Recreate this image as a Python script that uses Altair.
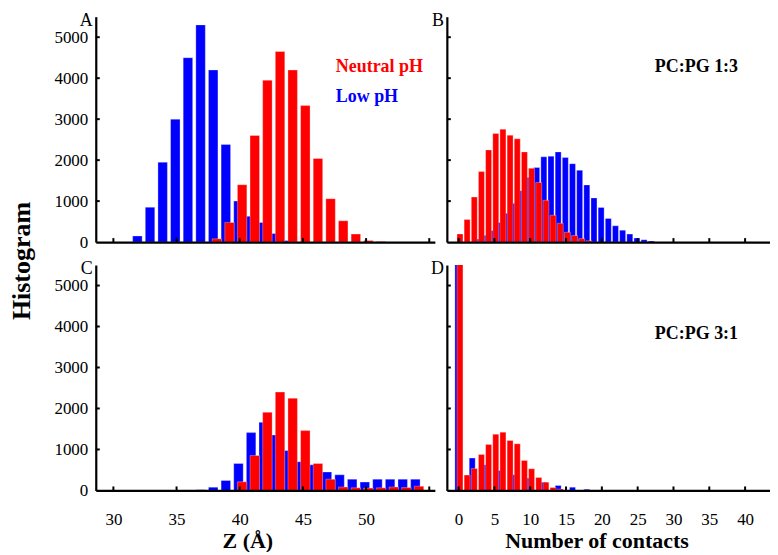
import altair as alt
import pandas as pd

# ---------------- data ----------------
# Panel A: PC:PG 1:3, Z position (Å)
A_low_z = [32, 33, 34, 35, 36, 37, 38, 39, 40, 41, 42, 43, 44]
A_low = [150, 850, 1950, 3000, 4500, 5300, 4200, 2380, 1000, 630, 480, 210, 40]
A_neu_z = [38, 39, 40, 41, 42, 43, 44, 45, 46, 47, 48, 49, 50, 51]
A_neu = [80, 480, 1400, 2600, 3950, 4650, 4200, 3330, 2040, 1060, 520, 195, 40, 15]

# Panel B: PC:PG 1:3, number of contacts
B_low_n = [3, 4, 5, 6, 7, 8, 9, 10, 11, 12, 13, 14, 15, 16, 17, 18, 19, 20,
           21, 22, 23, 24, 25, 26, 27]
B_low = [73, 165, 285, 478, 705, 945, 1255, 1585, 1820, 2080, 2097, 2200, 2065,
         1913, 1752, 1395, 1079, 843, 576, 397, 292, 195, 97, 57, 24]
B_neu_n = [0, 1, 2, 3, 4, 5, 6, 7, 8, 9, 10, 11, 12, 13, 14, 15, 16, 17, 18]
B_neu = [200, 550, 1100, 1720, 2250, 2650, 2755, 2610, 2520, 2200, 1800, 1455,
         1020, 655, 460, 240, 160, 85, 30]

# Panel C: PC:PG 3:1, Z position (Å)
C_low_z = [37, 38, 39, 40, 41, 42, 43, 44, 45, 46, 47, 48, 49, 50, 51, 52, 53, 54]
C_low = [20, 80, 243, 657, 1411, 1663, 1354, 973, 700, 624, 450, 381, 276, 205,
         276, 276, 276, 276]
C_neu_z = [40, 41, 42, 43, 44, 45, 46, 47, 48, 49, 50, 51, 52, 53, 54]
C_neu = [211, 852, 1906, 2400, 2250, 1460, 657, 276, 85, 65, 57, 65, 85, 73, 105]

# Panel D: PC:PG 3:1, number of contacts (bin 0 runs off the top)
D_low_n = [0, 1, 2, 3, 4, 5, 6, 7, 8, 9, 10, 11, 12, 13, 14, 15, 16, 17, 18]
D_low = [6000, 0, 789, 0, 626, 0, 488, 0, 382, 0, 301, 0, 203, 0, 122, 0, 81, 0, 30]
D_neu_n = [0, 1, 2, 3, 4, 5, 6, 7, 8, 9, 10, 11, 12, 13, 14]
D_neu = [6000, 374, 537, 878, 1122, 1374, 1423, 1220, 1138, 732, 528, 317, 203, 73, 33]

z_ticks = [30, 35, 40, 45, 50]
z_tick_marks = [30, 35, 40, 45, 50, 55]
n_ticks = [0, 5, 10, 15, 20, 25, 30, 35, 40]
y_ticks = [0, 1000, 2000, 3000, 4000, 5000]
y_tick_marks = [1000, 2000, 3000, 4000, 5000]

# ---------------- styling ----------------
FONT = "Liberation Serif"
RED = "#ff0000"
BLUE = "#0000ff"
W_Z, W_N, H = 340, 324, 226
Z_DOM = [29.0, 55.05]
N_DOM = [-0.945, 42.78]
Y_DOM = [0, 5500]


def panel(low_x, low_y, neu_x, neu_y, xdom, xvals, xmarks, width, bar_size,
          show_xlabels, show_ylabels, xtitle, title_x, letter, texts, extra=None):
    xaxis_kw = dict(values=xvals, labels=show_xlabels, ticks=False, grid=False,
                    domainColor="black", domainWidth=2.2, labelFont=FONT,
                    labelFontSize=17, labelColor="black", labelPadding=21,
                    format="d", title=xtitle if xtitle else None, titleFont=FONT,
                    titleFontSize=22, titleFontWeight="bold", titleColor="black",
                    titlePadding=3, zindex=1)
    if title_x is not None:
        xaxis_kw["titleX"] = title_x
    xaxis = alt.Axis(**xaxis_kw)
    yaxis = alt.Axis(values=y_ticks, labels=show_ylabels, ticks=False, grid=False,
                     domainColor="black", domainWidth=2.2, labelFont=FONT,
                     labelFontSize=17, labelColor="black", labelPadding=8,
                     format="d", title=None, zindex=1)
    xenc = alt.X("x:Q", scale=alt.Scale(domain=xdom, nice=False, zero=False),
                 axis=xaxis)
    yenc = alt.Y("y:Q", scale=alt.Scale(domain=Y_DOM, nice=False), axis=yaxis)

    def bars(xs, ys, color, off):
        df = pd.DataFrame({"b": xs, "y": ys})
        return (alt.Chart(df)
                .transform_calculate(x=f"datum.b + ({off})")
                .mark_bar(color=color, size=bar_size, clip=True, stroke="white",
                          strokeWidth=0.5, strokeOpacity=0.6)
                .encode(x=xenc, y=yenc))

    layers = [bars(low_x, low_y, BLUE, -0.1), bars(neu_x, neu_y, RED, 0.19)]

    ytk = (alt.Chart(pd.DataFrame({"y": y_tick_marks}))
           .mark_rule(color="black", strokeWidth=2)
           .encode(y=yenc, x=alt.value(0), x2=alt.value(4)))
    xtk = (alt.Chart(pd.DataFrame({"x": xmarks}))
           .mark_rule(color="black", strokeWidth=2)
           .encode(x=xenc, y=alt.value(H), y2=alt.value(H - 4)))
    layers += [ytk, xtk]

    lt = (alt.Chart(pd.DataFrame({"t": [letter]}))
          .mark_text(font=FONT, fontSize=18, align="right", baseline="middle",
                     color="black")
          .encode(text="t:N", x=alt.value(-3), y=alt.value(4)))
    layers.append(lt)

    for (txt, xv, yv, col) in texts:
        layers.append(
            alt.Chart(pd.DataFrame({"t": [txt]}))
            .mark_text(font=FONT, fontSize=18, fontWeight="bold", align="left",
                       baseline="middle", color=col)
            .encode(text="t:N", x=alt.datum(xv), y=alt.datum(yv)))
    if extra is not None:
        layers.append(extra)
    return alt.layer(*layers).properties(width=width, height=H)


hist_title = (alt.Chart(pd.DataFrame({"t": ["Histogram"]}))
              .mark_text(font=FONT, fontSize=26, fontWeight="bold", angle=270,
                         align="center", baseline="middle", color="black")
              .encode(text="t:N", x=alt.value(-74), y=alt.value(245)))

A = panel(A_low_z, A_low, A_neu_z, A_neu, Z_DOM, z_ticks, z_tick_marks, W_Z, 9.5,
          False, True, None, None, "A",
          [("Neutral pH", 47.6, 4270, RED), ("Low pH", 47.6, 3530, BLUE)],
          extra=hist_title)
B = panel(B_low_n, B_low, B_neu_n, B_neu, N_DOM, n_ticks, n_ticks, W_N, 6,
          False, False, None, None, "B", [("PC:PG 1:3", 27.4, 4260, "black")])
C = panel(C_low_z, C_low, C_neu_z, C_neu, Z_DOM, z_ticks, z_tick_marks, W_Z, 9.5,
          True, True, "Z (Å)", 152, "C", [])
D = panel(D_low_n, D_low, D_neu_n, D_neu, N_DOM, n_ticks, n_ticks, W_N, 6,
          True, False, "Number of contacts", 150, "D",
          [("PC:PG 3:1", 27.4, 3820, "black")])

chart = (alt.concat(A, B, C, D, columns=2, spacing={"row": 23, "column": 12},
                    bounds="flush")
         .properties(padding={"left": 1, "top": 3, "right": 0, "bottom": 0},
                     background="white")
         .configure_view(stroke=None))

chart.save("out.html", embed_options={"renderer": "svg", "actions": False})
